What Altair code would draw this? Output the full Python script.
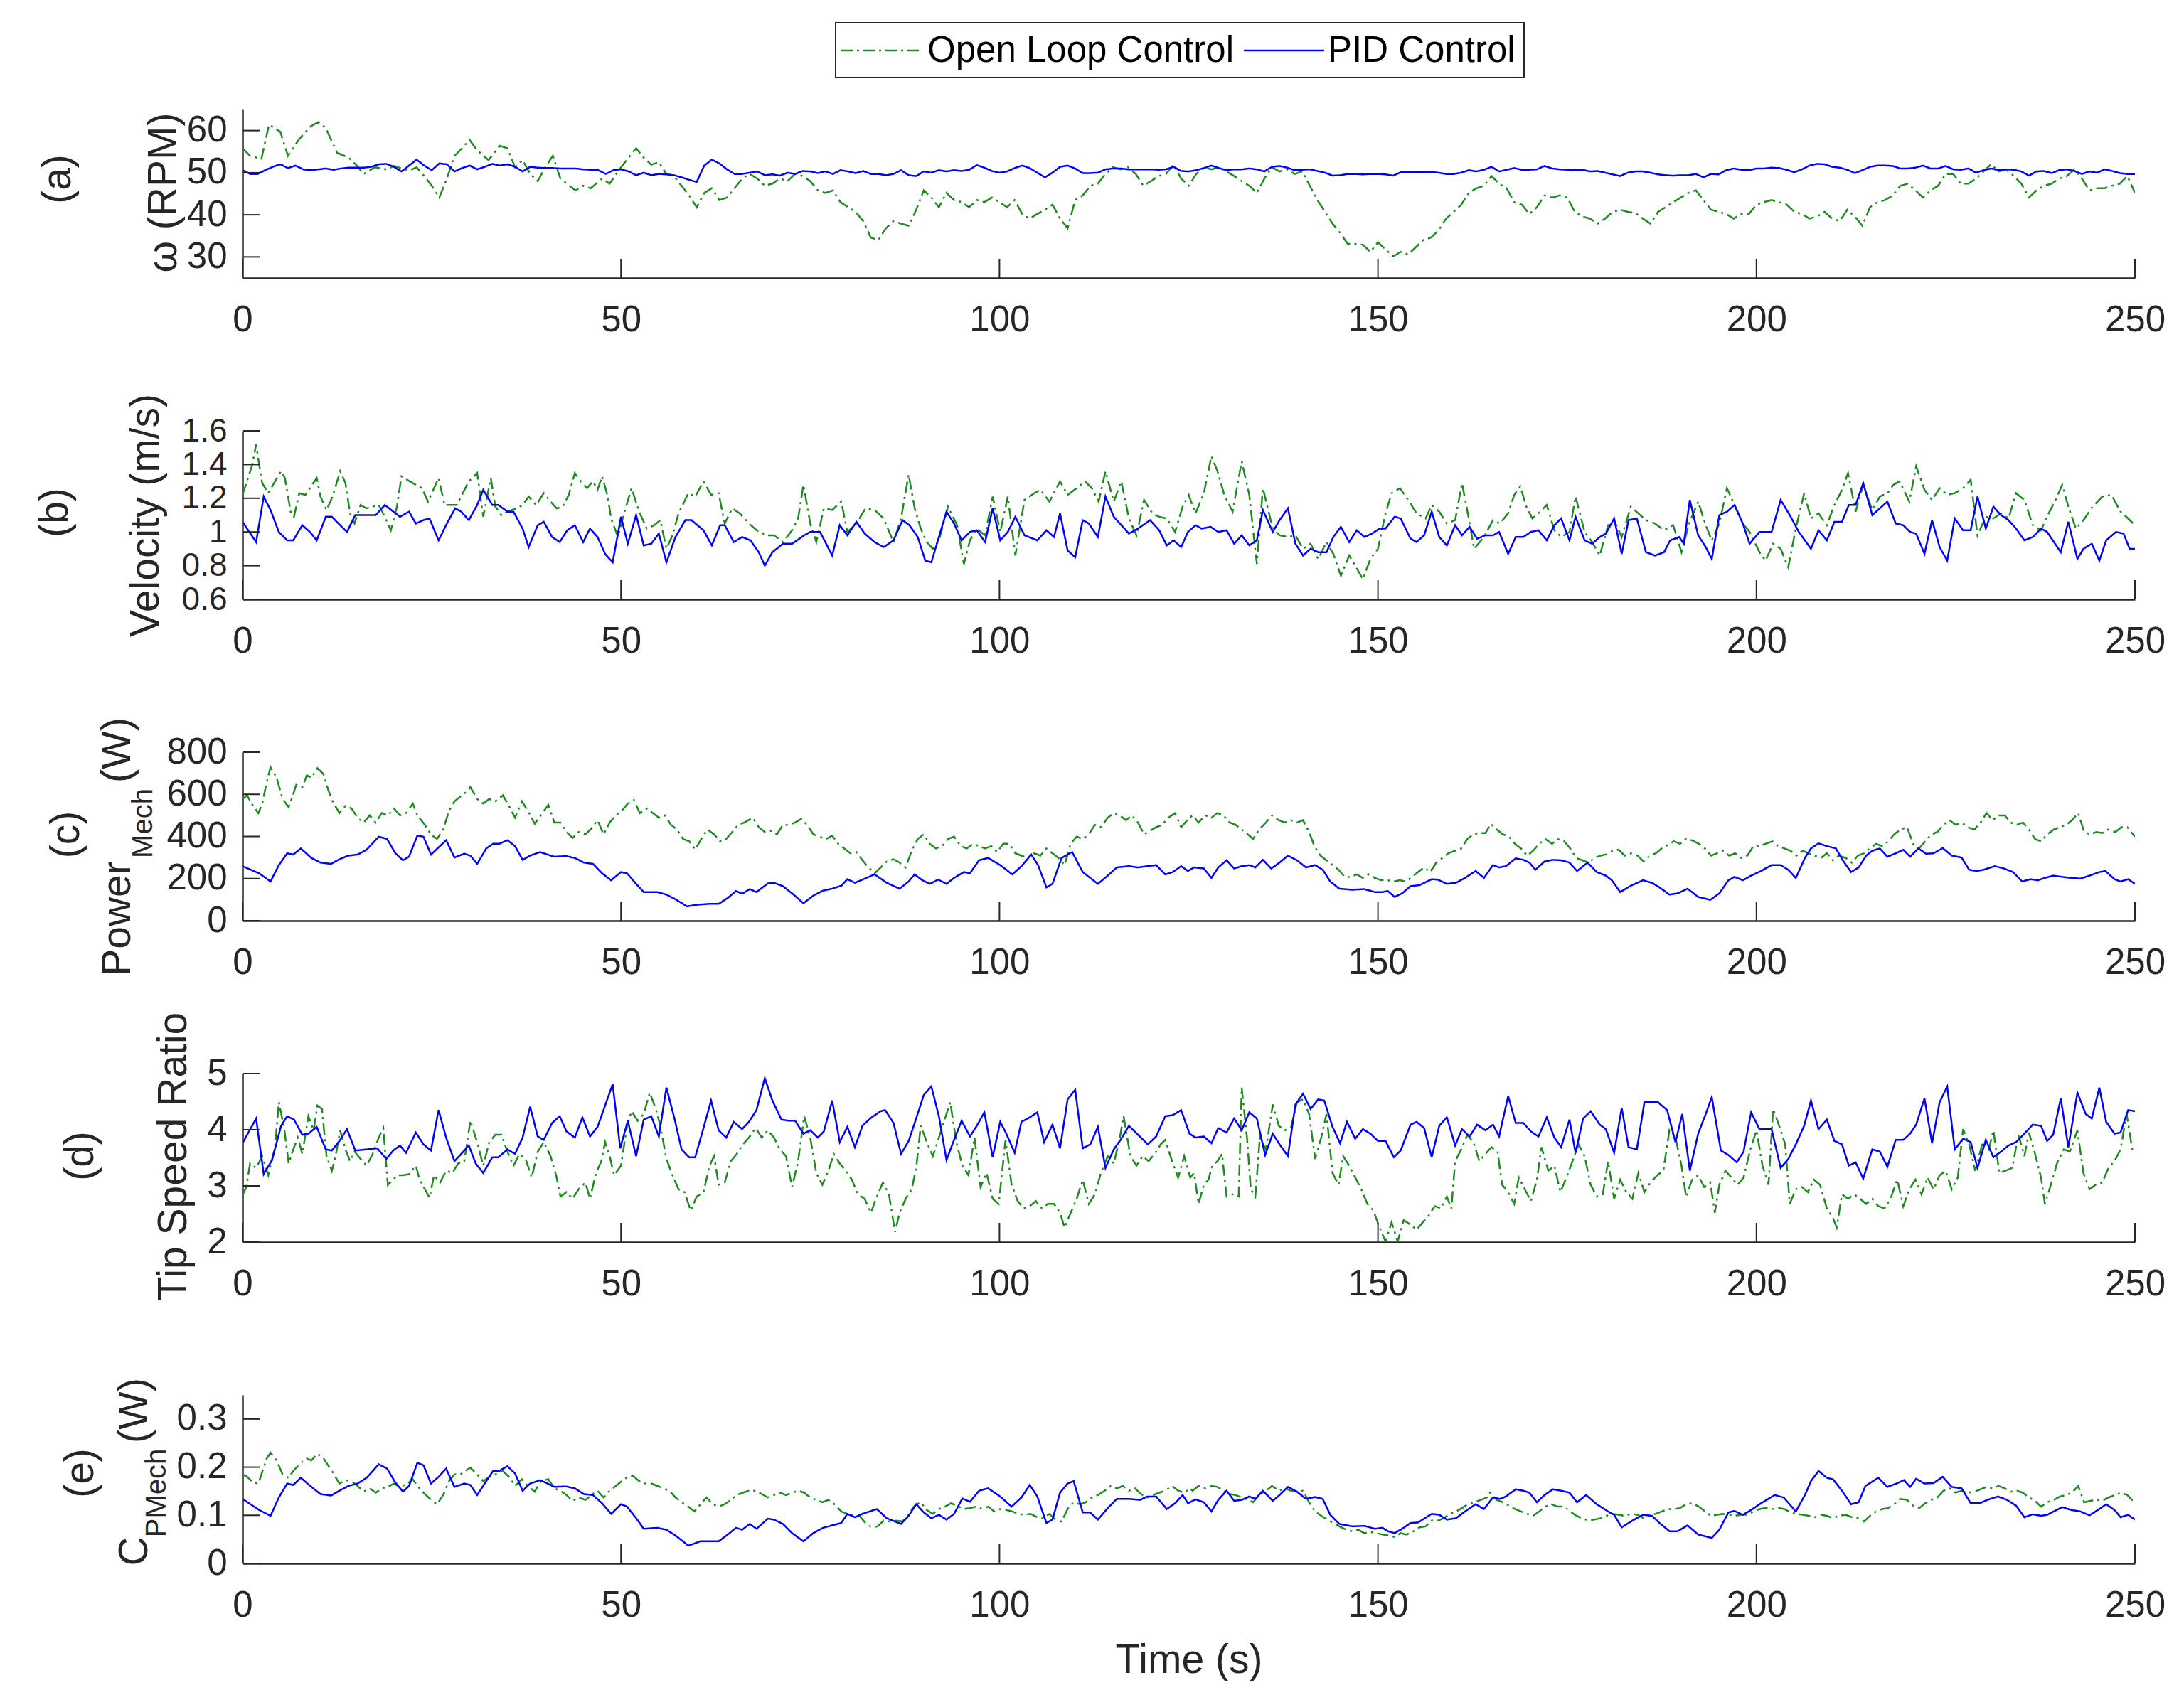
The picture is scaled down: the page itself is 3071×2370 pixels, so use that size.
import altair as alt
import pandas as pd

OL = "Open Loop Control"
PID = "PID Control"
GREEN = "#1f8a1f"
BLUE = "#0000ff"
AX = "#262626"
FONT = "Liberation Sans"
W, H = 2661, 237
XT = [0, 50, 100, 150, 200, 250]
DASH_OL = [16, 6, 3, 6]

# ---------------- (a) omega (RPM) ----------------
A_OL_L = [(0,55.8),(1,54),(2.5,53.3),(3.5,61.4),(5,59.7),(6,54),(7.5,58),(9,61),(10,62),(11,60.6),(12.5,54.7),(14,53.6),(15,51.9),(16,49.7),(17.5,51.3),(19,50.8),(20,51.6),(22,50.5),(23,51.3),(24,49.2),(25,46.9),(26,44.1),(27,48.6),(28,54),(29,55.8),(30,57.8),(31,55.3),(32.5,53),(34,56.4),(35,55.8),(36,51.3),(37,53),(38,49.7),(39,48),(40,51.3),(41,54),(42,48.6),(44,45.8),(45,46.9),(46,46.3),(47.5,48.6),(48.5,47.4),(50,51.3),(52,55.8),(53,53.6),(54,51.9),(55,52.5),(56,49.7),(57,49.2),(58,46.9),(59,44.6),(60,41.8),(61,45.2),(62,46.3),(63,43.5),(64,44.1),(65,46.3),(66,48.6),(67,49.7),(68,48.6),(69,46.9),(70,47.4),(71,48.6),(72,48),(73,49.7),(74,49.2),(75,48),(76,45.8),(77,45.2),(78,45.8),(79,43),(80,41.8),(81,40.7),(82,38.5),(83,34.6),(84,34),(85,36.8),(86,38.5),(87,37.9),(88,37.4),(89,41.2),(90,45.8),(91,44.1),(92,41.8),(93,45.2),(94,43.5),(95,43),(96,41.8),(97,43.5),(98,43),(99,44.1),(100,43),(101,41.8),(102,43.5),(103,40.2),(104,39.1),(105,40.2),(106,41.2),(107,42.4),(108,39.1),(109,36.8),(110,43.5),(111,44.6),(112,46.9),(113,47.4),(114,49.7),(115,51.3),(116,50.8),(117,51.3),(118,49.7),(119,46.9),(120,48),(121,49.2),(122,49.7),(123,51.9),(124,48.6),(125,46.9)]
A_OL_R_T0 = 126
A_OL_R = [49.7,51.3,50.8,51.3,50.3,49.2,48,46.9,45.2,48.6,51.3,50.3,50.8,49.7,50.3,46.9,43.5,40.7,37.9,35.7,33.1,33.1,32.9,31.2,33.5,31.8,30.1,31.2,30.6,32.3,34,34.6,36.3,39.1,40.7,42.4,45.2,46.3,46.9,49.2,47.4,46.3,43,42.4,40.2,41.8,44.6,44.1,44.6,44.1,40.7,39.6,39.1,37.9,39.1,40.7,41.2,40.7,40.4,39.1,37.9,40.7,41.8,43,44.1,45.2,45.8,43.5,41.2,40.7,40.2,39.1,40.2,40.2,42.4,43,43.5,43,42.4,40.7,40.2,39.1,39.6,40.7,39.1,38.5,41.2,39.6,37.4,41.8,43,43.5,44.6,46.9,47.4,45.8,44.1,45.8,46.9,49.7,49.7,47.4,47.4,48.6,50.3,52,50.3,50.8,49.2,47.4,44.1,45.8,46.9,47.4,48.6,49.2,50.8,48.6,45.8,46.3,46.3,46.9,47.4,49.2,45.2]
A_PID_T0 = 0
A_PID = [50.6,49.7,49.7,50.6,51.4,52,51.1,51.7,50.8,50.6,50.8,51,50.7,51,51.2,51.2,51.2,51.4,52,52.1,51.4,50.3,51.7,53.1,51.7,50.6,52.2,52,50.3,51.1,51.7,50.8,51.4,52.1,51.7,52,51.4,50.3,51.4,51.2,51.1,51.1,51,51,51,50.8,50.7,50.6,49.7,50.6,50.8,50.3,49.4,50,49.4,49.7,49.6,49.4,48.9,48.3,47.8,51.7,53.1,52.2,50.8,49.7,49.7,50,50.3,49.4,49.6,49.3,50,49.7,50.4,50.3,49.9,50.3,49.7,50.6,50.3,49.9,50.4,49.7,49.7,49.4,49.7,50.6,49.4,49.2,50.3,50,50.6,50.3,50.6,50.4,50.7,51.8,51.2,50.4,50,50.3,51.1,51.7,51.1,50,48.9,50,51.4,51.7,51,49.9,49.9,50,50.8,51,51,50.8,50.8,50.8,50.8,50.7,50.8,51.4,50.4,50.3,
         50.6,51.1,51.7,51.1,50.6,50.8,50.8,51,50.8,50.3,51.4,51.6,51.2,50.6,50.7,50.8,50.4,50,49.3,49.4,49.7,49.7,49.6,49.7,49.7,49.6,49.3,50.1,50.1,50.1,50.2,50.2,50,49.7,49.7,50,50.6,50.3,50.7,51.4,50.3,50.7,51.1,50.7,50.7,50.8,51.6,51,50.8,50.7,50.6,50.7,50.3,50.4,50,49.6,49.2,50,50.3,50.3,50,49.6,49.4,49.3,49.4,49.4,49.7,48.9,49.7,49.6,50.6,51,50.7,50.6,51,51,51.2,51.1,50.7,50.1,50.8,51.7,52.1,52,51.4,51.2,50.7,49.9,50.6,51.4,51.7,51.7,51.6,51,51,51.2,51.7,51,51,51.6,50.8,50.7,51,50,50.6,51,50.6,50.8,50.7,50.3,49.3,50.3,50.4,49.9,50.6,50.8,50.4,49.7,50.3,50,50.8,50.4,49.9,49.7,49.7]

# ---------------- (b) velocity (m/s) ----------------
B_OL = [(0,1.22),(1.3,1.40),(1.8,1.52),(2.2,1.40),(2.6,1.29),(3.4,1.23),(4.3,1.30),(5.1,1.36),(5.6,1.32),(6.4,1.11),(6.8,1.09),(7.5,1.23),(8.3,1.22),(8.9,1.26),(9.8,1.32),(10.3,1.21),(11.1,1.13),(11.9,1.21),(12.9,1.36),(13.6,1.29),(14.2,1.11),(14.8,1.05),(15.6,1.16),(16.4,1.14),(17.2,1.15),(18.0,1.16),(18.8,1.09),(19.6,1.01),(20.4,1.15),(21.0,1.33),(22.1,1.30),(22.9,1.28),(23.7,1.26),(24.5,1.18),(25.0,1.23),(25.9,1.32),(26.7,1.16),(27.5,1.16),(28.3,1.16),(29.1,1.23),(29.9,1.30),(31.0,1.35),(31.8,1.09),(32.8,1.32),(33.4,1.15),(34.2,1.10),(35.0,1.12),(36.2,1.14),(37.0,1.16),(37.8,1.21),(38.8,1.16),(39.8,1.23),(40.7,1.18),(41.5,1.14),(42.3,1.15),(43.1,1.22),(43.9,1.35),(44.7,1.30),(45.5,1.26),(46.3,1.30),(46.9,1.25),(47.5,1.33),(48.2,1.22),(48.7,1.08),(49.6,0.97),(50.4,1.11),(51.4,1.26),(52.4,1.12),(53.4,1.02),(54.4,1.04),(55.2,1.07),(56.0,0.90),(56.8,0.98),(57.6,1.11),(58.9,1.23),(59.8,1.21),(60.9,1.30),(61.9,1.22),(62.9,1.23),(63.7,1.05),(64.7,1.14),(65.7,1.11),(66.9,1.05),(68.2,1.00),(69.4,0.98),(70.2,0.98),(71.4,0.94),(72.6,1.01),(73.4,1.08),(74.1,1.28),(75.0,1.05),(75.8,0.94),(76.8,1.14),(77.9,1.13),(79.1,1.18),(79.9,1.00),(81.1,1.05),(82.3,1.14),(83.5,1.13),(84.7,1.08),(86.0,0.94),(87.0,1.08),(88.0,1.34),(88.8,1.14),(89.6,1.02),(90.4,0.94),(91.2,0.90),(92.0,0.95),(93.2,1.15),(94.4,1.04),(95.3,0.81),(96.1,0.95),(97.0,1.02),(98.1,0.98),(99.1,1.21),(100.1,1.00),(101.1,1.21),(102.1,0.86),(103.3,1.19),(104.6,1.23),(105.4,1.25),(106.6,1.18),(108.0,1.30),(109.0,1.22),(110.2,1.26),(111.3,1.30),(112.2,1.26),(113.1,1.18),(114.0,1.36),(115.1,1.18),(116.1,1.30),(117.1,1.08),(118.1,0.98),(119.1,1.19),(120.2,1.11),(121.1,1.09),(122.1,1.08),(123.2,1.00),(124.2,1.15),(125.0,1.22),
        (125.9,1.11),(127.0,1.23),(128.0,1.45),(128.8,1.36),(129.7,1.22),(130.8,1.12),(132.0,1.42),(133.0,1.22),(134.0,0.81),(134.8,1.26),(136.1,1.02),(137.0,0.98),(138.1,0.97),(139.1,0.98),(140.1,0.90),(141.1,0.93),(142.1,0.84),(143.2,0.94),(144.1,0.87),(145.1,0.74),(146.2,0.86),(147.0,0.80),(148.0,0.72),(149.0,0.84),(150.0,0.90),(151.0,1.11),(151.8,1.23),(152.9,1.26),(154.0,1.19),(155.1,1.11),(156.3,1.08),(157.1,1.16),(158.1,1.12),(159.1,1.05),(160.2,1.07),(161.1,1.29),(162.0,1.08),(162.7,0.90),(164.0,0.97),(165.2,1.07),(166.1,1.05),(167.2,1.11),(168.0,1.22),(168.8,1.27),(169.6,1.15),(170.4,1.08),(171.2,1.11),(172.3,1.16),(173.3,1.01),(174.2,0.97),(175.3,1.00),(176.1,1.21),(177.3,1.00),(178.3,0.94),(179.3,0.86),(180.4,1.04),(181.4,1.05),(182.2,0.97),(183.4,1.15),(184.4,1.11),(185.4,1.07),(186.6,1.05),(187.8,1.01),(189.0,1.04),(190.1,0.88),(191.1,1.05),(192.3,1.18),(193.3,1.04),(194.1,0.95),(195.1,1.05),(196.1,1.26),(197.1,1.16),(198.2,1.05),(199.1,1.00),(200.4,0.88),(201.2,0.83),(202.2,0.93),(203.2,0.90),(204.2,0.79),(205.2,1.02),(206.3,1.23),(207.2,1.08),(208.2,1.11),(209.3,1.04),(210.3,1.16),(211.3,1.25),(212.1,1.35),(213.1,1.12),(214.1,1.28),(215.3,1.13),(216.3,1.21),(217.3,1.23),(218.1,1.28),(218.9,1.30),(220.2,1.18),(221.1,1.39),(222.2,1.25),(223.2,1.19),(224.2,1.26),(225.2,1.22),(226.2,1.23),(227.3,1.26),(228.3,1.31),(229.2,0.98),(230.3,1.09),(231.3,1.08),(232.3,1.11),(233.3,1.08),(234.3,1.23),(235.4,1.19),(236.5,1.04),(237.6,1.01),(238.6,1.11),(239.4,1.18),(240.4,1.28),(241.2,1.15),(242.2,1.02),(243.2,1.07),(244.4,1.15),(245.7,1.21),(246.9,1.22),(248.1,1.12),(249.1,1.08),(250.0,1.04)]
B_PID = [(0,1.06),(1.8,0.94),(2.8,1.21),(3.7,1.13),(4.8,1.00),(5.9,0.95),(6.7,0.95),(7.9,1.04),(8.9,1.00),(9.8,0.95),(11.0,1.09),(11.8,1.09),(12.9,1.04),(13.8,1.00),(14.9,1.10),(17.6,1.10),(18.8,1.16),(20.8,1.09),(22.0,1.12),(22.9,1.05),(23.9,1.07),(24.7,1.08),(25.9,0.95),(27.0,1.05),(28.1,1.14),(28.9,1.12),(29.9,1.07),(31.0,1.16),(31.8,1.25),(33.0,1.16),(33.8,1.16),(35.0,1.12),(35.8,1.12),(37.0,1.02),(37.8,0.91),(39.0,1.04),(39.8,1.06),(40.9,0.97),(41.9,0.94),(42.9,1.01),(43.9,1.04),(45.0,0.94),(45.9,1.02),(46.9,0.97),(47.9,0.87),(48.9,0.82),(50.0,1.09),(50.9,0.93),(52.0,1.10),(53.0,0.92),(54.0,0.93),(55.0,0.99),(56.0,0.82),(57.2,0.97),(58.5,1.07),(59.3,1.07),(60.9,1.01),(62.0,0.92),(63.1,1.04),(63.7,1.04),(64.9,0.94),(66.0,0.97),(67.1,0.95),(68.2,0.88),(69.0,0.80),(70.0,0.88),(71.4,0.93),(72.6,0.93),(74.2,0.98),(75.0,1.00),(76.3,1.00),(77.9,0.86),(78.9,1.04),(79.9,0.98),(81.1,1.06),(82.2,0.99),(83.5,0.94),(84.7,0.91),(86.0,0.95),(87.2,1.07),(88.1,1.04),(89.2,0.97),(90.2,0.83),(91.0,0.82),(92.0,0.97),(93.0,1.12),(94.0,1.05),(95.0,0.95),(96.1,1.00),(97.0,1.01),(98.1,0.94),(99.1,1.14),(100.1,0.95),(101.1,1.00),(102.1,1.09),(103.3,0.98),(105.0,0.95),(106.2,1.01),(107.2,0.97),(108.0,1.11),(109.0,0.89),(110.0,0.85),(111.0,1.07),(111.8,1.05),(113.0,0.97),(114.0,1.21),(115.1,1.09),(117.1,0.99),(118.3,1.02),(119.9,1.07),(121.1,1.01),(122.1,0.92),(123.0,0.95),(124.0,0.91),(124.9,1.00),(125.9,1.04),(126.7,1.02),(127.9,1.03),(128.9,1.00),(130.0,1.01),(131.0,0.93),(132.0,0.98),(133.0,0.92),(134.0,0.95),(134.8,1.13),(136.1,1.00),(137.0,1.07),(138.1,1.14),(139.1,0.93),(140.1,0.86),(141.1,0.90),(142.1,0.88),(143.2,0.88),(144.1,0.97),(145.1,1.03),(146.2,0.94),(147.2,1.01),(148.2,0.97),(149.2,0.99),(150.2,1.02),(151.0,1.02),(152.2,1.09),(153.0,1.08),(154.3,0.96),(155.1,0.94),(156.1,0.98),(157.1,1.12),(158.1,0.97),(159.1,0.92),(160.2,1.04),(161.1,0.98),(162.1,1.03),(163.1,0.96),(164.2,0.98),(165.2,0.98),(166.0,1.00),(167.2,0.87),(168.2,0.97),(169.2,0.97),(170.2,1.00),(171.2,1.01),(172.3,0.95),(173.3,1.04),(174.2,1.08),(175.3,0.95),(176.1,1.09),(177.3,0.95),(178.3,0.93),(179.3,0.97),(180.1,0.99),(181.2,1.08),(182.2,0.87),(183.1,1.07),(184.2,1.08),(185.4,0.88),(186.6,0.86),(187.8,0.88),(188.6,0.95),(189.8,0.97),(190.4,0.93),(191.2,1.19),(192.3,0.98),(193.3,0.91),(194.1,0.84),(195.1,1.10),(196.1,1.12),(197.1,1.16),(198.2,1.05),(199.1,0.93),(200.4,1.00),(202.0,1.00),(203.2,1.19),(204.4,1.10),(205.6,1.00),(207.2,0.90),(208.2,1.01),(209.3,0.95),(210.3,1.06),(211.3,1.06),(212.2,1.16),(213.1,1.16),(214.1,1.29),(215.3,1.10),(216.3,1.14),(217.3,1.18),(218.4,1.05),(219.4,1.04),(220.3,1.00),(221.1,0.99),(222.2,0.87),(223.2,1.07),(224.2,0.91),(225.2,0.83),(226.2,1.08),(227.3,1.01),(228.3,1.01),(229.2,1.21),(230.3,1.02),(231.3,1.15),(232.3,1.10),(233.3,1.07),(234.3,1.02),(235.4,0.95),(236.5,0.97),(237.6,1.02),(238.4,1.00),(240.2,0.88),(241.2,1.06),(242.4,0.84),(243.2,0.90),(244.3,0.93),(245.3,0.83),(246.2,0.95),(247.5,1.00),(248.5,0.99),(249.3,0.90),(250.0,0.90)]

# ---------------- (c) mechanical power (W) ----------------
C_OL = [(0,578),(0.6,595),(1.4,545),(2.1,511),(2.6,556),(3.2,657),(3.7,729),(4.5,679),(5.3,578),(6.1,539),(6.7,601),(7.1,645),(7.9,634),(8.5,690),(9.1,679),(9.9,724),(10.7,696),(11.3,623),(11.9,567),(12.8,511),(13.6,545),(14.4,533),(15.2,489),(16.0,466),(16.8,500),(17.6,466),(18.4,511),(19.2,500),(20.0,533),(20.8,500),(21.6,511),(22.5,556),(23.1,500),(24.1,455),(24.9,410),(25.7,388),(26.5,433),(27.3,522),(28.0,567),(28.8,590),(29.6,612),(30.1,634),(31.0,578),(31.8,556),(32.6,578),(33.4,567),(34.4,595),(35.2,545),(36.0,489),(36.9,567),(37.7,522),(38.6,460),(39.4,500),(40.4,550),(41.2,466),(42.0,466),(42.8,421),(43.6,393),(44.4,421),(45.3,410),(46.1,438),(46.9,477),(47.7,410),(48.5,466),(49.3,500),(50.1,522),(50.9,556),(51.7,573),(52.5,511),(53.4,533),(54.2,511),(55.0,489),(55.8,500),(56.6,455),(57.4,433),(58.2,388),(59.0,377),(59.8,337),(60.6,388),(61.4,433),(62.3,410),(63.1,377),(63.9,388),(64.7,421),(65.5,455),(66.3,466),(67.4,489),(68.2,444),(69.0,421),(69.8,427),(70.6,410),(71.4,455),(72.2,455),(73.0,466),(73.8,483),(74.6,455),(75.4,410),(76.2,399),(77.1,388),(77.9,404),(78.7,365),(79.5,343),(80.3,320),(81.1,326),(81.9,287),(82.7,253),(83.5,225),(84.3,253),(85.1,281),(86.0,292),(86.8,276),(87.6,253),(88.4,332),(89.2,388),(90.0,410),(90.8,365),(91.6,343),(92.4,354),(93.2,388),(94.0,399),(94.9,354),(95.7,343),(96.5,365),(97.3,354),(98.1,343),(98.9,354),(99.7,326),(100.5,365),(101.3,365),(102.1,320),(102.9,309),(103.7,298),(104.6,320),(105.4,309),(106.2,343),(107.0,320),(107.8,298),(108.6,264),(109.4,365),(110.2,399),(111.0,388),(111.8,410),(112.6,455),(113.4,444),(114.3,489),(115.1,511),(115.9,500),(116.7,477),(117.5,500),(118.3,466),(119.1,410),(119.9,427),(120.7,444),(121.5,455),(122.3,489),(123.2,511),(124.0,444),(124.8,477),
        (125.5,500),(126.3,466),(127.2,500),(128.0,489),(128.8,511),(129.6,500),(130.4,466),(131.2,455),(132.0,433),(132.8,410),(133.5,388),(134.3,433),(135.2,466),(136.0,500),(136.9,477),(137.7,466),(138.5,477),(139.3,466),(140.1,477),(140.9,421),(141.6,354),(142.4,309),(143.2,287),(144.0,264),(144.8,242),(145.6,208),(146.4,208),(147.2,220),(148.0,203),(148.8,220),(149.6,203),(150.4,192),(151.3,192),(152.1,186),(152.9,192),(153.7,186),(154.5,208),(155.3,231),(156.1,253),(156.9,231),(157.7,276),(158.5,298),(159.3,320),(160.2,332),(161.0,343),(161.8,388),(162.6,410),(163.4,416),(164.2,416),(164.9,460),(165.7,433),(166.5,410),(167.3,399),(168.1,365),(168.9,343),(169.7,309),(170.5,332),(171.3,365),(172.1,388),(173.0,365),(173.7,388),(174.6,377),(175.4,343),(176.2,298),(177.0,287),(177.8,276),(178.6,298),(179.4,309),(180.2,315),(181.0,332),(181.8,337),(182.6,309),(183.5,320),(184.3,309),(185.1,281),(185.9,309),(186.7,320),(187.5,343),(188.3,360),(189.1,377),(189.9,365),(190.7,388),(191.5,382),(192.4,365),(193.2,343),(194.0,309),(194.8,320),(195.6,332),(196.4,309),(197.2,320),(198.0,298),(198.8,309),(199.6,354),(200.4,354),(201.2,365),(202.1,377),(202.9,354),(203.7,343),(204.5,332),(205.3,309),(206.1,332),(206.9,320),(207.7,309),(208.5,298),(209.3,320),(210.1,287),(210.9,309),(211.8,298),(212.6,276),(213.4,309),(214.2,320),(215.0,343),(215.8,365),(216.6,354),(217.4,377),(218.2,410),(219.0,433),(219.9,444),(220.7,365),(221.5,343),(222.3,377),(223.1,410),(223.9,421),(224.7,455),(225.5,477),(226.3,455),(227.1,466),(227.9,444),(228.8,433),(229.6,466),(230.4,511),(231.2,477),(232.0,500),(232.8,500),(233.6,466),(234.4,455),(235.2,466),(236.0,433),(236.8,388),(237.6,377),(238.4,410),(239.3,433),(240.1,444),(240.9,455),(241.7,477),(242.5,511),(243.3,421),(244.1,410),(244.9,421),(245.7,416),(246.5,433),(247.4,421),(248.2,444),(249.0,444),(250.0,399)]
C_PID = [(0,259),(2.2,225),(3.7,186),(4.8,264),(5.9,320),(6.7,314),(7.7,343),(9.1,298),(10.3,276),(11.7,270),(12.8,292),(14.0,309),(15.2,314),(16.4,337),(18.0,399),(19.1,388),(20.2,320),(21.2,287),(22.0,304),(23.1,404),(23.9,399),(24.9,314),(25.9,348),(26.9,382),(28.0,300),(29.3,318),(30.1,309),(31.0,270),(32.2,343),(33.1,365),(33.9,365),(35.0,382),(36.0,354),(37.0,289),(38.0,309),(39.3,326),(40.3,314),(41.2,304),(42.7,307),(43.9,298),(45.1,276),(46.3,270),(47.5,225),(48.7,192),(50.0,231),(50.8,225),(52.0,175),(53.0,136),(54.8,136),(56.0,124),(57.2,102),(58.7,68),(60.1,76),(61.7,80),(62.9,80),(64.1,108),(65.2,141),(66.0,128),(67.0,150),(67.9,136),(69.4,177),(70.2,180),(71.4,164),(72.6,130),(74.1,83),(75.4,119),(76.7,143),(77.9,152),(79.1,166),(79.9,197),(80.9,180),(81.9,195),(83.5,220),(85.1,180),(86.8,152),(88.0,186),(88.8,220),(89.8,192),(90.8,175),(91.9,195),(93.0,175),(94.0,203),(95.3,231),(96.1,225),(97.3,287),(98.5,298),(100.1,264),(101.7,220),(102.9,259),(104.2,314),(105.1,264),(106.2,158),(107.0,175),(108.2,298),(109.6,326),(111.0,231),(112.2,197),(113.0,175),(114.3,214),(115.5,253),(117.1,259),(118.3,253),(119.5,259),(120.7,264),(121.9,220),(122.9,231),(124.0,259),(124.9,236),(125.7,253),(127.0,248),(128.0,203),(128.9,253),(130.0,287),(131.0,248),(132.0,259),(133.0,264),(133.8,253),(134.8,289),(135.9,248),(137.0,276),(138.1,309),(139.3,287),(140.5,253),(141.7,264),(142.7,242),(143.7,186),(144.9,152),(146.6,147),(148.2,150),(149.6,136),(150.6,136),(151.3,141),(152.2,113),(153.2,130),(154.3,164),(155.5,169),(157.1,197),(157.9,195),(159.1,175),(160.3,180),(161.5,203),(162.9,236),(164.0,203),(165.2,264),(166.0,253),(166.9,259),(168.2,296),(169.2,289),(170.0,276),(170.8,242),(172.0,281),(173.1,289),(174.2,287),(175.3,276),(176.3,236),(177.7,276),(178.9,231),(180.1,214),(180.9,192),(182.0,136),(183.4,166),(185.0,192),(186.2,180),(187.2,158),(188.5,124),(189.6,130),(190.9,152),(192.3,113),(193.9,99),(195.1,130),(196.3,192),(197.1,208),(198.2,192),(199.3,214),(200.6,236),(202.0,264),(203.2,264),(204.2,242),(205.2,203),(206.4,298),(207.2,343),(208.2,367),(209.3,354),(210.5,343),(211.4,287),(212.5,231),(213.5,253),(214.5,309),(215.3,332),(216.3,343),(217.3,304),(218.4,320),(219.4,337),(220.3,304),(221.4,343),(222.4,318),(223.4,320),(224.6,345),(225.8,309),(227.1,300),(228.1,242),(229.1,236),(230.0,242),(231.5,259),(232.7,248),(233.9,231),(235.1,186),(236.2,197),(237.2,192),(238.1,203),(239.2,214),(240.4,208),(241.6,203),(242.8,200),(244.0,214),(245.3,231),(246.1,236),(247.3,197),(248.1,186),(249.1,197),(250.0,175)]

# ---------------- (d) tip speed ratio ----------------
D_OL = [(0,2.83),(0.5,2.98),(1.0,3.40),(1.8,3.32),(2.6,3.53),(3.4,3.19),(4.3,3.69),(4.8,4.49),(5.5,4.03),(6.1,3.40),(6.7,3.65),(7.3,3.86),(7.9,3.57),(8.7,4.24),(9.4,3.99),(9.9,4.43),(10.5,4.37),(11.1,3.53),(11.8,3.27),(12.3,3.53),(12.9,3.99),(13.6,3.65),(14.2,3.44),(14.8,3.61),(15.6,3.48),(16.4,3.36),(17.2,3.57),(18.0,3.86),(18.6,4.03),(19.2,3.02),(19.9,3.11),(20.4,3.19),(21.2,3.19),(22.0,3.21),(22.9,3.36),(23.4,3.11),(24.1,2.94),(24.7,2.79),(25.3,3.19),(26.1,3.06),(26.9,3.27),(27.7,3.23),(28.5,3.40),(29.3,3.44),(30.1,4.16),(31.0,3.78),(31.8,3.36),(32.6,3.78),(33.4,3.91),(34.2,3.91),(35.0,3.61),(35.8,3.36),(36.6,3.57),(37.4,3.48),(38.2,3.15),(39.0,3.61),(39.8,3.78),(40.7,3.53),(41.5,3.15),(42.0,2.81),(42.8,2.89),(43.6,2.77),(44.4,2.94),(45.3,3.06),(45.9,2.77),(46.7,3.23),(47.4,3.44),(47.9,3.78),(48.5,3.53),(49.1,3.19),(50.0,3.36),(50.8,4.07),(51.4,4.33),(52.2,4.16),(53.0,4.28),(53.8,4.66),(54.6,4.37),(55.2,4.07),(56.0,3.48),(56.8,3.19),(57.6,2.94),(58.4,2.89),(59.2,2.56),(60.0,2.81),(60.9,2.89),(61.7,3.36),(62.3,3.53),(62.9,3.02),(63.7,3.06),(64.5,3.44),(65.3,3.57),(66.1,3.74),(66.9,3.86),(67.8,4.03),(68.6,3.86),(69.4,3.99),(70.2,3.86),(71.0,3.65),(71.8,3.53),(72.6,2.98),(73.4,3.44),(74.2,4.24),(75.0,3.86),(75.8,3.23),(76.6,3.02),(77.4,3.27),(78.1,3.57),(78.9,3.40),(79.7,3.27),(80.5,3.11),(81.3,2.85),(82.2,2.77),(83.0,2.52),(83.8,2.81),(84.6,3.06),(85.4,2.85),(86.2,2.18),(86.8,2.52),(87.6,2.77),(88.4,2.94),(89.0,3.32),(89.6,4.07),(90.4,3.78),(91.2,3.53),(92.0,3.86),(92.8,4.20),(93.5,4.49),(94.3,3.78),(95.1,3.36),(95.9,3.19),(96.7,3.86),(97.5,2.98),(98.3,3.23),(99.1,2.77),(99.9,2.68),(100.8,3.82),(101.6,3.02),(102.4,2.73),(103.2,2.60),(104.0,2.64),(104.8,2.73),(105.6,2.60),(106.4,2.68),(107.2,2.68),(108.0,2.52),(108.6,2.26),(109.4,2.52),(110.2,2.77),(111.0,3.11),(111.8,2.68),(112.6,2.85),(113.4,3.23),(114.3,3.53),(115.1,3.40),(115.9,3.86),(116.4,4.24),(117.3,3.53),(118.1,3.36),(118.9,3.53),(119.7,3.44),(120.5,3.57),(121.3,3.74),(121.9,3.82),(122.8,3.44),(123.6,3.15),(124.4,3.53),(125.2,3.15),
        (125.7,3.23),(126.3,2.68),(127.0,3.02),(127.6,3.11),(128.1,3.36),(128.8,3.44),(129.4,3.57),(130.0,2.81),(130.8,2.85),(131.6,2.81),(132.0,4.75),(132.7,3.86),(133.2,2.94),(133.8,2.81),(134.4,3.86),(135.2,3.65),(136.1,4.45),(136.9,4.07),(137.7,3.99),(138.5,4.03),(139.3,4.49),(140.1,4.54),(140.9,4.28),(141.7,3.48),(142.5,3.86),(143.2,4.28),(144.0,3.23),(144.8,3.02),(145.4,3.53),(146.2,3.36),(147.0,3.15),(147.8,2.94),(148.6,2.68),(149.4,2.56),(150.2,2.26),(151.0,2.01),(151.8,2.35),(152.6,2.01),(153.4,2.39),(154.3,2.31),(155.1,2.22),(155.9,2.35),(156.7,2.47),(157.5,2.64),(158.3,2.60),(159.1,2.81),(159.7,2.60),(160.2,3.44),(161.0,3.65),(161.8,3.91),(162.6,3.78),(163.4,3.44),(164.2,3.57),(165.0,3.69),(165.8,3.61),(166.4,3.02),(167.2,2.89),(168.0,2.68),(168.6,3.15),(169.4,2.94),(170.2,2.73),(171.0,3.11),(171.6,3.69),(172.5,3.27),(173.3,3.36),(174.1,2.89),(174.9,3.15),(175.7,3.44),(176.5,3.74),(177.3,3.53),(178.1,3.02),(178.9,2.81),(179.7,2.85),(180.4,3.44),(181.2,2.77),(182.0,3.11),(182.8,2.89),(183.6,2.77),(184.4,3.23),(185.2,2.89),(186.0,3.06),(186.9,3.19),(187.7,3.27),(188.5,3.99),(189.3,3.86),(190.1,3.36),(190.7,2.81),(191.5,3.11),(192.3,3.19),(193.1,2.98),(193.9,3.06),(194.5,2.52),(195.1,3.02),(195.9,3.27),(196.7,3.15),(197.5,3.02),(198.3,3.15),(199.2,3.65),(200.0,3.99),(200.8,3.36),(201.6,3.02),(202.2,4.37),(203.0,4.07),(203.8,3.74),(204.4,2.68),(205.2,2.94),(206.0,2.98),(206.8,2.89),(207.6,3.11),(208.4,3.02),(209.3,2.60),(210.1,2.43),(210.6,2.26),(211.3,2.85),(212.1,2.77),(212.9,2.85),(213.7,2.77),(214.5,2.68),(215.3,2.77),(216.1,2.64),(216.9,2.60),(217.7,2.77),(218.6,3.11),(219.4,2.64),(220.2,2.94),(221.0,3.11),(221.8,2.85),(222.6,3.15),(223.4,2.94),(224.2,3.19),(225.0,3.27),(225.8,2.94),(226.6,3.15),(227.3,4.01),(228.1,3.74),(228.9,3.27),(229.9,3.78),(230.7,3.65),(231.3,3.99),(232.1,3.23),(232.9,3.27),(233.8,3.32),(234.6,3.91),(235.4,3.53),(236.0,3.95),(236.8,3.57),(237.6,3.15),(238.1,2.68),(238.9,3.02),(239.7,3.40),(240.6,3.65),(241.4,3.61),(242.4,3.99),(243.2,3.23),(244.0,2.94),(244.8,3.02),(245.7,3.06),(246.5,3.32),(247.3,3.44),(248.1,3.65),(248.9,4.28),(249.7,3.61)]
D_PID = [(0,3.76),(1.8,4.20),(2.8,3.21),(3.9,3.46),(5.1,4.07),(5.9,4.24),(6.8,4.18),(7.9,3.91),(8.7,3.93),(9.8,4.05),(11.0,3.65),(11.8,3.63),(12.8,3.80),(13.8,4.01),(14.9,3.63),(16.4,3.65),(17.8,3.67),(19.0,3.48),(19.9,3.63),(20.8,3.72),(21.6,3.59),(22.9,3.95),(23.9,3.74),(24.9,3.63),(25.9,4.35),(26.9,3.86),(28.0,3.44),(28.9,3.57),(29.9,3.72),(30.8,3.40),(31.8,3.23),(33.0,3.51),(33.8,3.51),(35.0,3.65),(36.0,3.57),(37.0,3.86),(38.0,4.41),(39.0,3.88),(39.8,3.82),(40.9,4.12),(41.9,4.24),(42.8,3.97),(43.9,3.86),(44.9,4.22),(45.9,3.88),(46.9,4.05),(47.9,4.43),(48.9,4.81),(49.9,3.67),(50.9,4.16),(52.0,3.53),(53.0,4.18),(54.0,4.24),(55.0,3.88),(56.0,4.75),(57.1,4.18),(58.0,3.65),(59.0,3.51),(59.8,3.51),(60.9,4.03),(61.9,4.52),(62.9,3.99),(63.9,3.86),(64.9,4.14),(66.0,4.01),(66.9,4.14),(67.9,4.35),(69.0,4.92),(70.0,4.52),(71.2,4.18),(72.2,4.16),(73.0,4.16),(74.1,3.93),(75.0,3.99),(76.0,3.86),(76.8,3.97),(77.9,4.52),(78.9,3.78),(79.9,4.05),(80.9,3.69),(81.9,4.07),(83.1,4.22),(84.3,4.33),(84.9,4.35),(86.0,4.12),(87.0,3.57),(88.0,3.80),(88.9,4.16),(90.0,4.62),(91.0,4.77),(92.0,4.24),(93.0,3.46),(94.0,3.82),(95.0,4.16),(96.1,3.88),(97.0,4.07),(98.0,4.31),(99.1,3.51),(100.1,4.14),(100.9,3.93),(102.0,3.59),(102.9,4.14),(104.0,4.22),(105.0,4.31),(105.9,3.78),(107.0,4.09),(108.0,3.67),(109.0,4.54),(110.0,4.71),(111.0,3.67),(112.0,3.74),(113.0,4.05),(114.0,3.32),(115.1,3.65),(116.0,3.82),(117.1,4.07),(118.3,3.91),(119.6,3.74),(120.7,3.88),(121.9,4.24),(122.9,4.26),(124.0,4.35),(125.1,3.93),(125.9,3.86),(127.0,3.88),(128.0,3.76),(128.9,4.03),(130.0,3.95),(131.0,4.20),(132.0,3.99),(133.0,4.31),(134.0,4.20),(135.1,3.55),(136.1,3.93),(137.0,3.74),(138.1,3.53),(139.1,4.45),(140.1,4.64),(141.1,4.37),(142.1,4.54),(142.9,4.52),(144.0,4.05),(145.0,3.76),(145.9,4.14),(147.0,3.84),(148.0,4.01),(149.0,3.93),(150.0,3.80),(151.0,3.80),(152.1,3.51),(153.0,3.63),(154.3,4.09),(155.1,4.14),(156.1,4.03),(157.1,3.51),(158.1,4.07),(159.1,4.22),(160.2,3.72),(161.1,4.01),(162.1,3.88),(163.1,4.09),(164.2,3.99),(165.2,4.09),(166.0,3.88),(167.2,4.60),(168.2,4.12),(169.2,4.12),(170.2,3.97),(171.2,3.88),(172.3,4.22),(173.3,3.86),(174.2,3.69),(175.3,4.18),(176.1,3.59),(177.1,4.20),(178.1,4.33),(179.3,4.09),(180.1,4.01),(181.2,3.59),(182.2,4.39),(183.1,3.69),(184.2,3.65),(185.2,4.49),(187.0,4.49),(188.2,4.35),(189.3,3.78),(190.2,4.28),(191.2,3.27),(192.3,3.93),(193.3,4.28),(194.1,4.58),(195.3,3.63),(196.3,3.55),(197.4,3.42),(198.3,3.61),(199.3,4.31),(200.4,4.01),(202.0,4.01),(203.2,3.32),(204.2,3.48),(205.2,3.74),(206.3,4.07),(207.2,4.52),(208.2,4.01),(209.3,4.18),(210.3,3.80),(211.3,3.74),(212.2,3.36),(213.1,3.42),(214.1,3.13),(215.3,3.65),(216.3,3.61),(217.3,3.34),(218.4,3.82),(219.4,3.82),(220.3,3.93),(221.1,4.09),(222.2,4.56),(223.2,3.76),(224.2,4.49),(225.2,4.77),(226.2,3.65),(227.3,3.84),(228.3,3.78),(229.2,3.32),(230.3,3.82),(231.3,3.51),(232.3,3.61),(233.3,3.72),(234.3,3.78),(235.4,3.93),(236.5,4.09),(237.6,4.07),(238.4,3.80),(239.2,3.91),(240.2,4.56),(241.2,3.69),(242.4,4.66),(243.5,4.28),(244.3,4.20),(245.3,4.75),(246.2,4.14),(247.3,3.93),(248.1,3.95),(249.1,4.35),(250.0,4.33)]

# ---------------- (e) power coefficient ----------------
E_OL = [(0,0.185),(0.6,0.180),(1.4,0.168),(2.1,0.166),(2.6,0.190),(3.2,0.218),(3.7,0.230),(4.5,0.214),(5.3,0.185),(6.1,0.178),(6.7,0.192),(7.3,0.202),(7.9,0.211),(8.5,0.218),(9.1,0.214),(9.9,0.228),(10.7,0.218),(11.3,0.204),(11.9,0.190),(12.8,0.166),(13.6,0.173),(14.4,0.171),(15.2,0.161),(16.0,0.149),(16.8,0.156),(17.6,0.147),(18.4,0.156),(19.2,0.159),(20.0,0.166),(20.8,0.159),(21.8,0.166),(22.5,0.175),(23.1,0.161),(24.1,0.144),(24.9,0.132),(25.7,0.123),(26.5,0.142),(27.3,0.171),(28.0,0.185),(28.8,0.185),(29.6,0.194),(30.1,0.199),(31.0,0.185),(31.8,0.171),(32.6,0.180),(33.4,0.185),(34.4,0.192),(35.2,0.180),(36.0,0.161),(36.9,0.175),(37.7,0.161),(38.6,0.149),(39.4,0.171),(40.4,0.175),(41.2,0.156),(42.0,0.151),(42.8,0.142),(43.6,0.130),(44.4,0.137),(45.3,0.132),(46.1,0.142),(46.9,0.151),(47.7,0.137),(48.5,0.151),(49.3,0.161),(50.1,0.171),(50.9,0.180),(51.6,0.182),(52.4,0.171),(53.2,0.166),(54.0,0.166),(54.8,0.161),(55.6,0.156),(56.4,0.151),(57.2,0.137),(58.0,0.127),(58.9,0.118),(59.7,0.108),(60.5,0.123),(61.3,0.137),(62.1,0.123),(62.9,0.118),(63.7,0.123),(64.5,0.132),(65.3,0.142),(66.1,0.147),(66.9,0.151),(67.8,0.151),(68.6,0.144),(69.4,0.137),(70.2,0.142),(71.0,0.147),(71.8,0.142),(72.6,0.147),(73.4,0.151),(74.2,0.147),(75.0,0.137),(75.8,0.132),(76.6,0.127),(77.4,0.132),(78.2,0.123),(79.1,0.108),(79.9,0.103),(80.7,0.101),(81.5,0.099),(82.3,0.084),(83.1,0.075),(83.9,0.077),(84.7,0.089),(85.6,0.087),(86.4,0.089),(87.2,0.087),(88.0,0.103),(88.8,0.120),(89.6,0.127),(90.4,0.111),(91.2,0.103),(92.0,0.113),(92.8,0.118),(93.6,0.125),(94.4,0.120),(95.3,0.113),(96.1,0.115),(96.9,0.118),(97.7,0.113),(98.5,0.118),(99.3,0.108),(100.1,0.113),(100.9,0.111),(101.7,0.108),(102.5,0.103),(103.3,0.101),(104.1,0.103),(105.0,0.096),(105.8,0.094),(106.6,0.103),(107.4,0.091),(108.2,0.087),(109.0,0.113),(109.8,0.127),(110.6,0.123),(111.4,0.127),(112.2,0.137),(113.0,0.142),(113.9,0.151),(114.7,0.161),(115.5,0.156),(116.3,0.161),(117.1,0.151),(117.9,0.156),(118.7,0.144),(119.5,0.137),(120.3,0.142),(121.1,0.147),(121.9,0.151),(122.8,0.161),(123.6,0.151),(124.4,0.147),(125.2,0.156),
        (125.5,0.151),(126.3,0.161),(127.2,0.156),(128.0,0.161),(128.8,0.159),(129.6,0.151),(130.4,0.144),(131.2,0.142),(132.0,0.137),(132.8,0.132),(133.5,0.127),(134.3,0.142),(135.2,0.151),(136.0,0.161),(136.9,0.151),(137.7,0.156),(138.5,0.151),(139.3,0.149),(140.1,0.151),(140.9,0.127),(141.7,0.108),(142.5,0.099),(143.3,0.091),(144.1,0.084),(144.9,0.077),(145.8,0.070),(146.6,0.067),(147.4,0.070),(148.2,0.063),(149.0,0.065),(149.8,0.063),(150.6,0.060),(151.4,0.058),(152.2,0.055),(153.0,0.063),(153.8,0.060),(154.7,0.067),(155.5,0.075),(156.3,0.077),(157.1,0.089),(157.9,0.089),(158.7,0.094),(159.5,0.103),(160.3,0.108),(161.1,0.115),(161.9,0.123),(162.7,0.127),(163.6,0.132),(164.4,0.137),(164.8,0.147),(165.7,0.132),(166.5,0.127),(167.3,0.120),(168.1,0.113),(168.9,0.108),(169.7,0.103),(170.5,0.099),(171.3,0.108),(172.1,0.118),(172.9,0.123),(173.7,0.118),(174.6,0.118),(175.4,0.108),(176.2,0.099),(177.0,0.094),(177.8,0.089),(178.6,0.091),(179.4,0.094),(180.2,0.099),(181.0,0.103),(181.8,0.101),(182.6,0.099),(183.5,0.103),(184.3,0.101),(185.1,0.094),(185.9,0.101),(186.7,0.103),(187.5,0.108),(188.3,0.113),(189.1,0.113),(189.9,0.115),(190.7,0.123),(191.5,0.125),(192.4,0.118),(193.2,0.108),(194.0,0.099),(194.8,0.101),(195.6,0.103),(196.4,0.101),(197.2,0.099),(198.0,0.101),(198.8,0.101),(199.6,0.108),(200.4,0.113),(201.2,0.115),(202.1,0.113),(202.9,0.115),(203.7,0.113),(204.5,0.106),(205.3,0.103),(206.1,0.101),(206.9,0.099),(207.7,0.096),(208.5,0.101),(209.3,0.099),(210.1,0.094),(210.9,0.099),(211.8,0.101),(212.6,0.096),(213.4,0.094),(214.2,0.087),(215.0,0.099),(215.8,0.108),(216.6,0.113),(217.4,0.115),(218.2,0.123),(219.0,0.134),(219.9,0.132),(220.7,0.120),(221.5,0.115),(222.3,0.125),(223.1,0.132),(223.9,0.137),(224.7,0.151),(225.5,0.156),(226.3,0.147),(227.1,0.151),(227.9,0.147),(228.8,0.149),(229.6,0.154),(230.4,0.159),(231.2,0.156),(232.0,0.161),(232.8,0.156),(233.6,0.149),(234.4,0.151),(235.2,0.147),(236.0,0.137),(236.8,0.130),(237.6,0.118),(238.4,0.127),(239.3,0.132),(240.1,0.139),(240.9,0.142),(241.7,0.147),(242.5,0.161),(243.3,0.127),(244.1,0.130),(244.9,0.132),(245.7,0.130),(246.5,0.137),(247.4,0.142),(248.2,0.147),(249.0,0.142),(250.0,0.125)]
E_PID = [(0,0.134),(2.2,0.111),(3.7,0.099),(4.8,0.137),(5.9,0.166),(6.7,0.163),(7.7,0.178),(9.1,0.159),(10.3,0.144),(11.7,0.141),(12.8,0.151),(14.0,0.161),(15.2,0.166),(16.4,0.178),(18.0,0.206),(19.1,0.197),(20.2,0.168),(21.2,0.149),(22.0,0.161),(23.1,0.209),(23.9,0.204),(24.9,0.166),(25.9,0.180),(26.9,0.197),(28.0,0.159),(29.3,0.166),(30.1,0.163),(31.0,0.142),(32.2,0.171),(33.1,0.192),(33.9,0.192),(35.0,0.202),(36.0,0.187),(37.0,0.151),(38.0,0.166),(39.3,0.173),(40.3,0.166),(41.2,0.159),(42.7,0.160),(43.9,0.156),(45.1,0.144),(46.3,0.142),(47.5,0.125),(48.7,0.103),(50.0,0.123),(50.8,0.118),(52.0,0.094),(53.0,0.072),(54.8,0.074),(56.0,0.070),(57.2,0.058),(58.9,0.037),(60.5,0.046),(62.9,0.046),(64.1,0.060),(65.2,0.074),(66.0,0.070),(67.0,0.082),(67.9,0.072),(69.4,0.093),(70.2,0.091),(71.4,0.082),(72.6,0.063),(74.1,0.046),(75.4,0.063),(76.7,0.074),(77.9,0.079),(79.1,0.084),(79.9,0.103),(80.9,0.096),(81.9,0.103),(83.8,0.113),(85.1,0.094),(87.0,0.082),(88.0,0.099),(89.0,0.123),(90.0,0.106),(91.0,0.094),(92.0,0.101),(93.0,0.091),(94.0,0.103),(95.1,0.135),(96.1,0.128),(97.3,0.151),(98.5,0.156),(100.1,0.139),(101.6,0.118),(102.9,0.137),(104.0,0.163),(105.0,0.139),(106.2,0.084),(107.0,0.091),(108.0,0.147),(109.0,0.166),(109.8,0.171),(111.0,0.106),(112.0,0.106),(113.0,0.091),(114.3,0.115),(115.5,0.134),(117.1,0.134),(118.6,0.132),(119.5,0.139),(120.7,0.139),(122.1,0.113),(123.2,0.125),(124.2,0.142),(124.9,0.125),(125.9,0.133),(127.0,0.127),(128.0,0.108),(128.9,0.132),(130.0,0.151),(131.0,0.130),(132.0,0.132),(133.0,0.139),(133.8,0.134),(134.8,0.151),(136.1,0.130),(137.0,0.142),(138.1,0.159),(139.3,0.149),(140.5,0.134),(141.7,0.138),(142.7,0.134),(143.7,0.101),(144.9,0.082),(146.6,0.077),(148.2,0.078),(149.6,0.072),(150.6,0.074),(151.3,0.067),(152.2,0.063),(153.2,0.072),(154.3,0.084),(155.3,0.085),(157.1,0.103),(158.1,0.101),(159.1,0.091),(160.3,0.094),(161.5,0.108),(162.9,0.123),(164.0,0.113),(165.2,0.137),(166.1,0.134),(166.9,0.139),(168.2,0.154),(169.2,0.151),(170.0,0.147),(171.0,0.127),(172.0,0.142),(173.1,0.154),(174.2,0.151),(175.3,0.147),(176.3,0.127),(177.5,0.142),(178.9,0.123),(180.4,0.108),(181.2,0.101),(182.2,0.075),(183.4,0.087),(185.0,0.101),(186.2,0.099),(187.2,0.084),(188.5,0.067),(189.6,0.067),(190.9,0.079),(192.3,0.060),(194.1,0.053),(195.1,0.070),(196.3,0.106),(197.1,0.109),(198.2,0.101),(199.3,0.111),(200.4,0.123),(202.4,0.142),(203.6,0.137),(205.2,0.108),(206.4,0.142),(207.2,0.171),(208.2,0.192),(209.3,0.178),(210.1,0.175),(211.3,0.151),(212.5,0.123),(213.5,0.127),(214.4,0.161),(216.1,0.178),(217.3,0.159),(218.5,0.166),(219.5,0.173),(220.3,0.159),(221.1,0.176),(222.2,0.166),(223.4,0.167),(224.6,0.180),(225.8,0.159),(227.1,0.156),(228.3,0.125),(229.5,0.125),(230.5,0.132),(231.9,0.139),(233.1,0.132),(234.3,0.120),(235.4,0.096),(236.5,0.102),(237.6,0.099),(238.4,0.101),(240.4,0.117),(241.6,0.111),(242.8,0.108),(244.0,0.100),(245.3,0.113),(246.2,0.123),(247.3,0.111),(248.1,0.096),(249.1,0.101),(250.0,0.091)]

# y-axis domains and ticks
DOMS = {"a": [25, 65], "b": [0.6, 1.6], "c": [0, 800], "d": [2, 5], "e": [0, 0.35]}
YTICKS = {"a": [30, 40, 50, 60], "b": [0.6, 0.8, 1, 1.2, 1.4, 1.6],
          "c": [0, 200, 400, 600, 800], "d": [2, 3, 4, 5], "e": [0, 0.1, 0.2, 0.3]}
YLABEL_SIZE = {"a": 51, "b": 46, "c": 51, "d": 51, "e": 51}


def one():
    return alt.Chart(pd.DataFrame({"k": [0]}))


def make_df(ol, pid):
    rows = [{"t": t, "v": v, "s": OL} for t, v in ol]
    rows += [{"t": t, "v": v, "s": PID} for t, v in pid]
    return pd.DataFrame(rows)


def label(text, x, y, size=57):
    return one().mark_text(
        text=text, angle=270, font=FONT, fontSize=size, color=AX,
        align="center", baseline="middle").encode(x=alt.value(x), y=alt.value(y))


def legend_layers():
    # legend box drawn above panel (a)
    box = one().mark_rect(fill="white", stroke=AX, strokeWidth=2).encode(
        x=alt.value(834), x2=alt.value(1802), y=alt.value(-122), y2=alt.value(-45))
    s1 = one().mark_rule(color=GREEN, strokeWidth=2.5, strokeDash=DASH_OL).encode(
        x=alt.value(842), x2=alt.value(956), y=alt.value(-83))
    t1 = one().mark_text(text=OL, align="left", baseline="middle", font=FONT, fontSize=51,
                         color="#000000").encode(x=alt.value(963), y=alt.value(-82))
    s2 = one().mark_rule(color=BLUE, strokeWidth=2.5).encode(
        x=alt.value(1408), x2=alt.value(1521), y=alt.value(-83))
    t2 = one().mark_text(text=PID, align="left", baseline="middle", font=FONT, fontSize=51,
                         color="#000000").encode(x=alt.value(1526), y=alt.value(-82))
    return [box, s1, t1, s2, t2]


def panel(key, ol, pid, texts, xtitle=None, with_legend=False):
    df = make_df(ol, pid)
    xaxis = alt.Axis(values=XT, format=".6~g", ticks=False, tickSize=0, grid=False,
                     labelPadding=34, labelFlush=False, labelOverlap=False,
                     title=xtitle, titlePadding=24)
    yaxis = alt.Axis(values=YTICKS[key], format=".6~g", ticks=False, tickSize=0,
                     grid=False, labelPadding=22, labelOverlap=False, title=None,
                     labelFontSize=YLABEL_SIZE[key])
    xsc = alt.Scale(domain=[0, 250], nice=False, zero=False)
    ysc = alt.Scale(domain=DOMS[key], nice=False, zero=False)
    lines = alt.Chart(df).mark_line(strokeWidth=2.5, clip=True).encode(
        x=alt.X("t:Q", scale=xsc, axis=xaxis),
        y=alt.Y("v:Q", scale=ysc, axis=yaxis),
        color=alt.Color("s:N", scale=alt.Scale(domain=[OL, PID], range=[GREEN, BLUE]), legend=None),
        strokeDash=alt.StrokeDash("s:N", scale=alt.Scale(domain=[OL, PID], range=[DASH_OL, [1, 0]]),
                                  legend=None),
    )
    xt = alt.Chart(pd.DataFrame({"t": XT})).mark_rule(color=AX, strokeWidth=2).encode(
        x=alt.X("t:Q", scale=xsc, axis=xaxis), y=alt.value(H), y2=alt.value(H - 27))
    yt = alt.Chart(pd.DataFrame({"v": YTICKS[key]})).mark_rule(color=AX, strokeWidth=2).encode(
        y=alt.Y("v:Q", scale=ysc, axis=yaxis), x=alt.value(0), x2=alt.value(24))
    layers = [lines, xt, yt] + [label(*t) for t in texts]
    if with_legend:
        layers += legend_layers()
    return alt.layer(*layers).properties(width=W, height=H)


A_OL = A_OL_L + [(A_OL_R_T0 + i, v) for i, v in enumerate(A_OL_R)]
A_PIDP = [(A_PID_T0 + i, v) for i, v in enumerate(A_PID)]

pa = panel("a", A_OL, A_PIDP, [("(a)", -259, 98), ("ω (RPM)", -110, 117)], with_legend=True)
pb = panel("b", B_OL, B_PID, [("(b)", -263, 115), ("Velocity (m/s)", -135, 119)])
pc = panel("c", C_OL, C_PID, [("(c)", -247, 116), ("Power", -175, 234), ("Mech", -139, 100, 40),
                              ("(W)", -175, -3)])
pd_ = panel("d", D_OL, D_PID, [("(d)", -227, 116), ("Tip Speed Ratio", -96, 117)])
pe = panel("e", E_OL, E_PID, [("(e)", -227, 110), ("C", -151, 220), ("PMech", -120, 138, 40),
                              ("(W)", -151, 22)], xtitle="Time (s)")

chart = alt.vconcat(pa, pb, pc, pd_, pe, spacing=215, bounds="flush",
                    padding={"left": 41, "top": 23, "right": 5, "bottom": 5}).resolve_scale(
    x="independent", y="independent"
).configure_view(stroke=None).configure_axis(
    domainColor=AX, domainWidth=2.5, labelFont=FONT, labelFontSize=51, labelColor=AX,
    titleFont=FONT, titleFontSize=57, titleColor=AX, titleFontWeight="normal"
)

chart.save("out.html", embed_options={"renderer": "svg", "actions": False})
